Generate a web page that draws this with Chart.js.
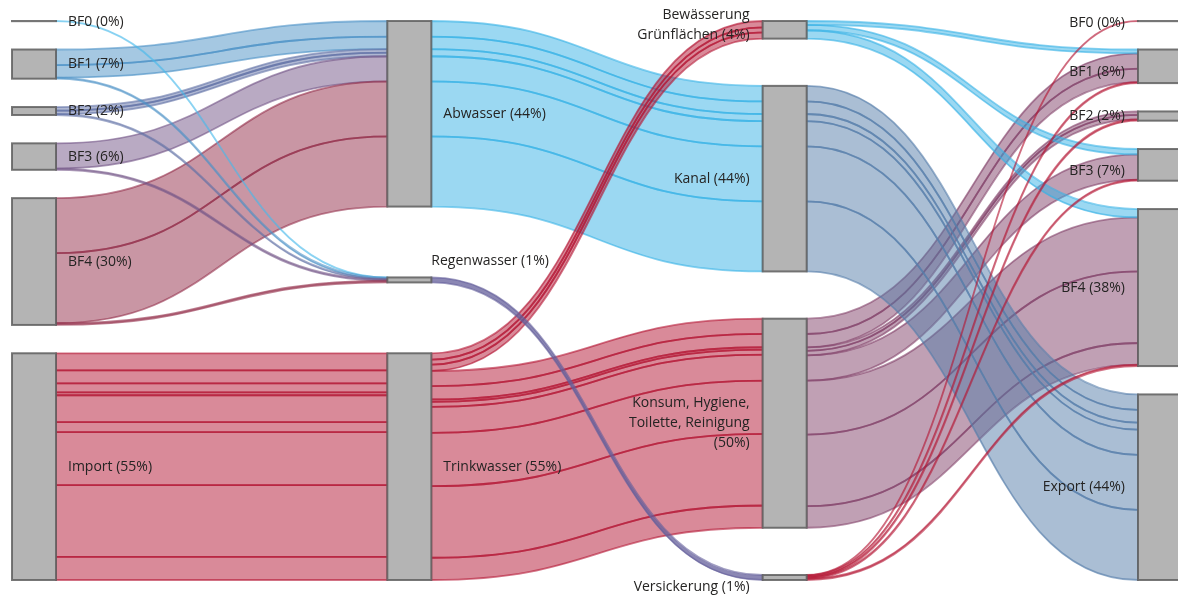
<!DOCTYPE html>
<html>
<head>
<meta charset="utf-8">
<title>Wasserflüsse</title>
<script src="https://cdn.jsdelivr.net/npm/chart.js@4"></script>
<style>
  html, body { margin: 0; padding: 0; background: #fff; }
  #wrap { width: 1178px; height: 595px; position: relative; }
</style>
</head>
<body>
<div id="wrap"><canvas id="sankey"></canvas></div>
<script>
// Nodes, one per stage column
const nodeIds = ['BF0_in', 'BF1_in', 'BF2_in', 'BF3_in', 'BF4_in', 'Import',
  'Abwasser', 'Regenwasser', 'Trinkwasser',
  'Bewaesserung', 'Kanal', 'Konsum', 'Versickerung',
  'BF0_out', 'BF1_out', 'BF2_out', 'BF3_out', 'BF4_out', 'Export'];
const nodeLabels = ['BF0 (0%)', 'BF1 (7%)', 'BF2 (2%)', 'BF3 (6%)', 'BF4 (30%)', 'Import (55%)',
  'Abwasser (44%)', 'Regenwasser (1%)', 'Trinkwasser (55%)',
  'Bewässerung\nGrünflächen (4%)', 'Kanal (44%)', 'Konsum, Hygiene,\nToilette, Reinigung\n(50%)', 'Versickerung (1%)',
  'BF0 (0%)', 'BF1 (8%)', 'BF2 (2%)', 'BF3 (7%)', 'BF4 (38%)', 'Export (44%)'];
const nodeColumn = [0, 0, 0, 0, 0, 0, 1, 1, 1, 2, 2, 2, 2, 3, 3, 3, 3, 3, 3];

// Flows in % of total water volume (several sub-flows per pair)
const linkFrom = [
  'BF1_in', 'BF1_in', 'BF2_in', 'BF2_in', 'BF3_in', 'BF4_in', 'BF4_in',
  'BF0_in', 'BF1_in', 'BF2_in', 'BF3_in', 'BF4_in',
  'Import', 'Import', 'Import', 'Import', 'Import', 'Import', 'Import', 'Import', 'Import',
  'Abwasser', 'Abwasser', 'Abwasser', 'Abwasser', 'Abwasser', 'Abwasser',
  'Trinkwasser', 'Trinkwasser', 'Trinkwasser',
  'Trinkwasser', 'Trinkwasser', 'Trinkwasser', 'Trinkwasser', 'Trinkwasser', 'Trinkwasser', 'Trinkwasser', 'Trinkwasser',
  'Regenwasser',
  'Konsum', 'Konsum', 'Konsum', 'Konsum', 'Konsum', 'Konsum', 'Konsum', 'Konsum',
  'Kanal', 'Kanal', 'Kanal', 'Kanal', 'Kanal', 'Kanal',
  'Bewaesserung', 'Bewaesserung', 'Bewaesserung',
  'Versickerung', 'Versickerung', 'Versickerung', 'Versickerung', 'Versickerung'];
const linkTo = [
  'Abwasser', 'Abwasser', 'Abwasser', 'Abwasser', 'Abwasser', 'Abwasser', 'Abwasser',
  'Regenwasser', 'Regenwasser', 'Regenwasser', 'Regenwasser', 'Regenwasser',
  'Trinkwasser', 'Trinkwasser', 'Trinkwasser', 'Trinkwasser', 'Trinkwasser', 'Trinkwasser', 'Trinkwasser', 'Trinkwasser', 'Trinkwasser',
  'Kanal', 'Kanal', 'Kanal', 'Kanal', 'Kanal', 'Kanal',
  'Bewaesserung', 'Bewaesserung', 'Bewaesserung',
  'Konsum', 'Konsum', 'Konsum', 'Konsum', 'Konsum', 'Konsum', 'Konsum', 'Konsum',
  'Versickerung',
  'BF1_out', 'BF1_out', 'BF2_out', 'BF2_out', 'BF3_out', 'BF4_out', 'BF4_out', 'BF4_out',
  'Export', 'Export', 'Export', 'Export', 'Export', 'Export',
  'BF1_out', 'BF3_out', 'BF4_out',
  'BF0_out', 'BF1_out', 'BF2_out', 'BF3_out', 'BF4_out'];
const linkValue = [
  3.7, 3.0, 0.85, 0.85, 6.0, 13.1, 16.7,
  0.04, 0.25, 0.2, 0.3, 0.4,
  4.05, 3.1, 2.15, 0.7, 6.4, 2.4, 12.6, 17.1, 5.5,
  3.7, 3.0, 1.7, 6.0, 13.1, 16.7,
  1.5, 1.2, 1.5,
  3.6, 3.2, 0.55, 1.2, 6.2, 12.7, 17.05, 5.3,
  1.19,
  3.65, 3.2, 0.8, 1.1, 6.0, 12.85, 17.05, 5.15,
  3.7, 3.0, 1.7, 6.0, 13.1, 16.7,
  0.9, 1.3, 2.0,
  0.04, 0.25, 0.3, 0.25, 0.35];
const linkColor = [
  'bf1', 'bf1', 'bf2', 'bf2', 'bf3', 'bf4', 'bf4',
  'sky', 'bf1', 'bf2', 'bf3', 'bf4',
  'red', 'red', 'red', 'red', 'red', 'red', 'red', 'red', 'red',
  'cyan', 'cyan', 'cyan', 'cyan', 'cyan', 'cyan',
  'red', 'red', 'red',
  'red', 'red', 'red', 'red', 'red', 'red', 'red', 'red',
  'regen',
  'mauve', 'mauve', 'mauve', 'mauve', 'mauve', 'mauve', 'mauve', 'mauve',
  'steel', 'steel', 'steel', 'steel', 'steel', 'steel',
  'cyan', 'cyan', 'cyan',
  'red', 'red', 'red', 'red', 'red'];

const palette = {
  red: [180, 22, 52],
  cyan: [55, 178, 230],
  sky: [70, 185, 235],
  steel: [85, 125, 170],
  bf1: [75, 145, 198],
  bf2: [95, 112, 165],
  bf3: [115, 85, 135],
  bf4: [147, 45, 73],
  mauve: [130, 65, 105],
  regen: [100, 95, 155]
};
// fill opacity per colour group (the thin rain-water band is more solid)
const fillAlpha = { regen: 0.75 };

const NODE_PAD = 6.75;   // gap between nodes in the densest column, in % units
const NODE_W = 44;       // node width in px

// label tweaks (px) where the original moved a label off the node centre
const labelShift = {
  Regenwasser: [-12, -19], Bewaesserung: [0, -5], Versickerung: [0, 10],
  BF0_in: [0, 1], BF0_out: [0, 2], BF1_out: [0, 6], BF3_out: [0, 6]
};

// ---- layout (in data units) ----
const src = linkFrom.map(id => nodeIds.indexOf(id));
const tgt = linkTo.map(id => nodeIds.indexOf(id));

const nodeValue = nodeIds.map((_, i) => {
  let inSum = 0, outSum = 0;
  linkValue.forEach((v, k) => {
    if (tgt[k] === i) inSum += v;
    if (src[k] === i) outSum += v;
  });
  return Math.max(inSum, outSum);
});

const colList = [...new Set(nodeColumn)].map(c => nodeIds.map((_, i) => i).filter(i => nodeColumn[i] === c));
const yMax = Math.max(...colList.map(list =>
  list.reduce((s, i) => s + nodeValue[i], 0) + (list.length - 1) * NODE_PAD));

const nodeY0 = [];
colList.forEach(list => {
  const total = list.reduce((s, i) => s + nodeValue[i], 0);
  const gap = list.length > 1 ? (yMax - total) / (list.length - 1) : 0;
  let y = 0;
  list.forEach(i => { nodeY0[i] = y; y += nodeValue[i] + gap; });
});

const linkSy = [], linkTy = [];
nodeIds.forEach((_, i) => {
  const outs = linkValue.map((_, k) => k).filter(k => src[k] === i)
    .sort((a, b) => nodeY0[tgt[a]] - nodeY0[tgt[b]] || a - b);
  let y = nodeY0[i];
  outs.forEach(k => { linkSy[k] = y; y += linkValue[k]; });
  const ins = linkValue.map((_, k) => k).filter(k => tgt[k] === i)
    .sort((a, b) => nodeY0[src[a]] - nodeY0[src[b]] || a - b);
  y = nodeY0[i];
  ins.forEach(k => { linkTy[k] = y; y += linkValue[k]; });
});

const rgba = (c, a) => `rgba(${c[0]},${c[1]},${c[2]},${a})`;

// Draws links, nodes and labels through the chart's x/y scales
const sankeyPlugin = {
  id: 'sankeyDraw',
  afterDatasetsDraw(chart) {
    const { ctx, scales: { x, y } } = chart;
    ctx.save();

    linkValue.forEach((v, k) => {
      const x0 = x.getPixelForValue(nodeColumn[src[k]]) + NODE_W;
      const x1 = x.getPixelForValue(nodeColumn[tgt[k]]);
      const a0 = y.getPixelForValue(linkSy[k]), a1 = y.getPixelForValue(linkSy[k] + v);
      const b0 = y.getPixelForValue(linkTy[k]), b1 = y.getPixelForValue(linkTy[k] + v);
      const xm = (x0 + x1) / 2;
      const c = palette[linkColor[k]];
      ctx.beginPath();
      ctx.moveTo(x0, a0);
      ctx.bezierCurveTo(xm, a0, xm, b0, x1, b0);
      ctx.lineTo(x1, b1);
      ctx.bezierCurveTo(xm, b1, xm, a1, x0, a1);
      ctx.closePath();
      ctx.fillStyle = rgba(c, fillAlpha[linkColor[k]] || 0.5);
      ctx.fill();
      ctx.strokeStyle = rgba(c, 0.6);
      ctx.lineWidth = 1.8;
      ctx.stroke();
    });

    nodeIds.forEach((id, i) => {
      const left = x.getPixelForValue(nodeColumn[i]);
      const top = y.getPixelForValue(nodeY0[i]);
      const h = y.getPixelForValue(nodeY0[i] + nodeValue[i]) - top;
      ctx.fillStyle = '#b4b4b4';
      ctx.fillRect(left, top, NODE_W, h);
      ctx.strokeStyle = 'rgba(95,95,95,0.85)';
      ctx.lineWidth = 2;
      ctx.strokeRect(left, top, NODE_W, h);
    });

    ctx.font = '14px "Open Sans", "Noto Sans", sans-serif';
    ctx.fillStyle = '#252423';
    ctx.textBaseline = 'middle';
    nodeIds.forEach((id, i) => {
      const left = x.getPixelForValue(nodeColumn[i]);
      const mid = y.getPixelForValue(nodeY0[i] + nodeValue[i] / 2);
      const shift = labelShift[id] || [0, 0];
      const onLeft = nodeColumn[i] >= 2;
      ctx.textAlign = onLeft ? 'right' : 'left';
      const tx = (onLeft ? left - 13 : left + NODE_W + 12) + shift[0];
      const lines = nodeLabels[i].split('\n');
      const lh = 20;
      lines.forEach((line, j) => {
        ctx.fillText(line, tx, mid + shift[1] + (j - (lines.length - 1) / 2) * lh);
      });
    });
    ctx.restore();
  }
};

new Chart(document.getElementById('sankey'), {
  type: 'scatter',
  data: { datasets: [] },
  options: {
    responsive: true,
    maintainAspectRatio: false,
    animation: false,
    layout: { padding: { left: 12, right: 40, top: 21, bottom: 15 } },
    plugins: { legend: { display: false }, tooltip: { enabled: false } },
    scales: {
      x: { type: 'linear', min: 0, max: 3, display: false },
      y: { type: 'linear', min: 0, max: yMax, reverse: true, display: false }
    }
  },
  plugins: [sankeyPlugin]
});
</script>
</body>
</html>
